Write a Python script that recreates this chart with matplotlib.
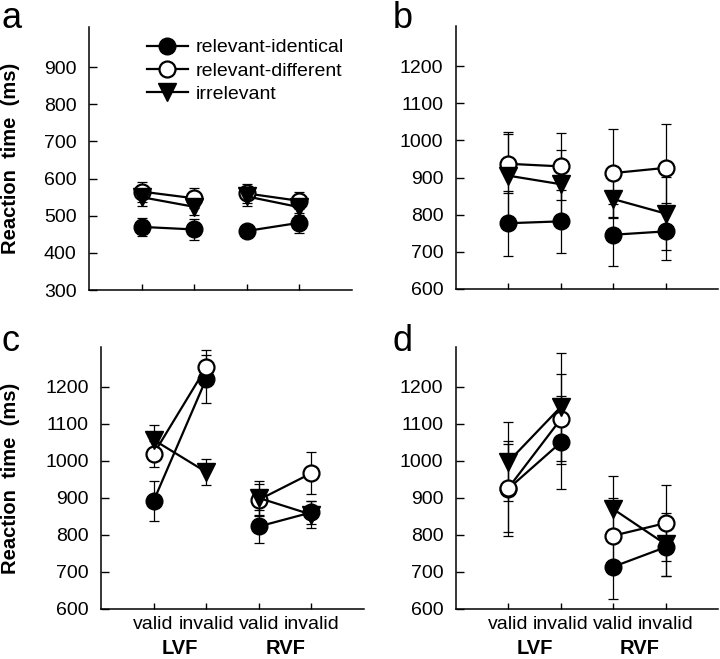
import matplotlib.pyplot as plt
from matplotlib.transforms import blended_transform_factory

plt.rcParams['font.family'] = ['Liberation Sans', 'DejaVu Sans']

# data (ms), order: LVF valid, LVF invalid, RVF valid, RVF invalid
conditions = ['valid', 'invalid', 'valid', 'invalid']
fields = ['LVF', 'RVF']
series = ['relevant-identical', 'relevant-different', 'irrelevant']

a_means = [[470, 463, 459, 481],
           [565, 547, 560, 540],
           [550, 524, 552, 523]]
a_errs = [[25, 28, 15, 27],
          [27, 27, 25, 23],
          [25, 22, 25, 20]]

b_means = [[777, 782, 746, 755],
           [937, 930, 912, 926],
           [905, 882, 842, 803]]
b_errs = [[87, 84, 83, 77],
          [79, 90, 119, 119],
          [117, 91, 50, 98]]

c_means = [[892, 1222, 823, 861],
           [1019, 1253, 895, 967],
           [1057, 970, 900, 855]]
c_errs = [[53, 65, 44, 31],
          [36, 46, 43, 57],
          [39, 35, 45, 37]]

d_means = [[925, 1050, 714, 767],
           [927, 1113, 798, 832],
           [998, 1146, 870, 775]]
d_errs = [[128, 126, 88, 78],
          [120, 122, 102, 102],
          [107, 146, 90, 85]]

x = [1, 2, 3, 4]
styles = [dict(marker='o', mfc='black', mec='black', ms=12),
          dict(marker='o', mfc='white', mec='black', ms=11.5, mew=1.6),
          dict(marker='v', mfc='black', mec='black', ms=12.5)]

fig = plt.figure(figsize=(7.2, 6.59), dpi=100)

panels = [
    ('a', [0.1236, 0.5599, 0.3653, 0.3991], a_means, a_errs, 300, range(300, 901, 100)),
    ('b', [0.6333, 0.5615, 0.3639, 0.3991], b_means, b_errs, 600, range(600, 1201, 100)),
    ('c', [0.1403, 0.0759, 0.3653, 0.3976], c_means, c_errs, 600, range(600, 1201, 100)),
    ('d', [0.6333, 0.0759, 0.3639, 0.3976], d_means, d_errs, 600, range(600, 1201, 100)),
]
letter_pos = {'a': (0.002, 0.998), 'b': (0.545, 0.998),
              'c': (0.002, 0.508), 'd': (0.545, 0.508)}

for letter, rect, means, errs, ymin, yticks in panels:
    ax = fig.add_axes(rect)
    for k in range(3):
        st = styles[k]
        # error bars first, under the markers
        ax.errorbar(x, means[k], yerr=errs[k], fmt='none', ecolor='black',
                    elinewidth=0.9, capsize=3.5, capthick=0.9, zorder=2)
        for seg in ([0, 1], [2, 3]):
            ax.plot([x[i] for i in seg], [means[k][i] for i in seg],
                    color='black', lw=1.6, zorder=3 + k, **st)
    ax.set_xlim(0, 5)
    ax.set_ylim(ymin, ymin + 708)
    ax.set_yticks(list(yticks))
    ax.set_xticks(x)
    ax.spines['top'].set_visible(False)
    ax.spines['right'].set_visible(False)
    for s in ('left', 'bottom'):
        ax.spines[s].set_linewidth(1.1)
    ax.tick_params(axis='y', direction='in', length=6, width=1, labelsize=14, pad=9)
    ax.tick_params(axis='x', direction='in', length=4.5, width=1, labelsize=14, pad=5)
    if letter in ('a', 'b'):
        ax.set_xticklabels([])
    else:
        ax.set_xticklabels(conditions)
        tr = blended_transform_factory(ax.transData, ax.transAxes)
        ax.text(1.5, -0.15, fields[0], transform=tr, ha='center', va='center',
                fontsize=14.5, fontweight='bold')
        ax.text(3.5, -0.15, fields[1], transform=tr, ha='center', va='center',
                fontsize=14.5, fontweight='bold')
    if letter in ('a', 'c'):
        ax.set_ylabel('Reaction  time  (ms)', fontsize=14.5, fontweight='bold')
        ax.yaxis.set_label_coords((20 - rect[0] * 720) / (rect[2] * 720), 0.5)
    if letter == 'a':
        handles = [plt.Line2D([], [], color='black', lw=1.6, **styles[k]) for k in range(3)]
        ax.legend(handles, series, loc='upper left', bbox_to_anchor=(0.19, 0.985),
                  frameon=False, fontsize=14, handlelength=2.1, handletextpad=0.4,
                  labelspacing=0.3, borderaxespad=0)
    fig.text(*letter_pos[letter], letter, fontsize=26, ha='left', va='top')

plt.savefig('out.png', dpi=100)
